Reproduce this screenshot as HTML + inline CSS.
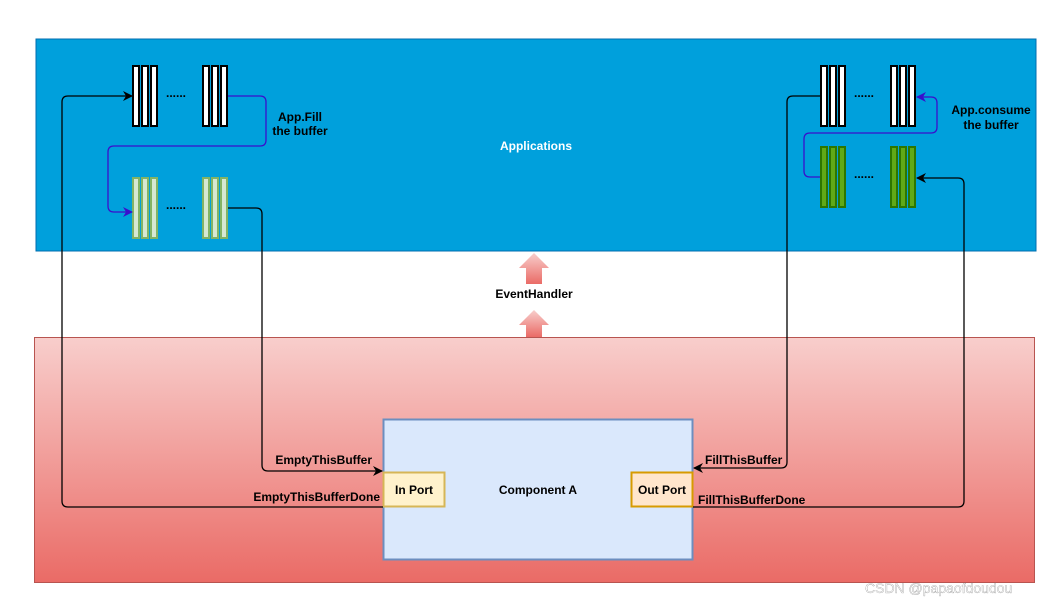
<!DOCTYPE html>
<html><head><style>body{margin:0;background:#fff}svg{display:block}text{font-family:"Liberation Sans",sans-serif;font-size:12px;font-weight:bold}</style></head><body>
<svg width="1059" height="605" viewBox="0 0 1059 605" xmlns="http://www.w3.org/2000/svg">
<defs>
<linearGradient id="rg" x1="0" y1="0" x2="0" y2="1"><stop offset="0" stop-color="#F8CECC"/><stop offset="1" stop-color="#EA6B66"/></linearGradient>
<linearGradient id="ag" x1="0" y1="0" x2="0" y2="1"><stop offset="0" stop-color="#F8CECC"/><stop offset="1" stop-color="#EA6B66"/></linearGradient>
<marker id="mb" markerWidth="10" markerHeight="10" refX="9" refY="5" orient="auto" markerUnits="userSpaceOnUse"><path d="M0,0 L10,5 L0,10 L3,5z" fill="#000"/></marker>
<marker id="mp" markerWidth="10" markerHeight="10" refX="9" refY="5" orient="auto" markerUnits="userSpaceOnUse"><path d="M0,0 L10,5 L0,10 L3,5z" fill="#3A0FCC"/></marker>
</defs>
<rect x="36" y="39" width="1000" height="212" fill="#00A0DC" stroke="#006EAF"/>
<rect x="34.5" y="337.5" width="1000" height="245" fill="url(#rg)" stroke="#B85450"/>
<text x="536" y="150" fill="#fff" text-anchor="middle">Applications</text>
<path d="M534,253 L549,268 L542,268 L542,284 L526,284 L526,268 L519,268z" fill="url(#ag)"/>
<path d="M534,310 L549,325 L542,325 L542,337 L526,337 L526,325 L519,325z" fill="url(#ag)"/>
<text x="534" y="298" text-anchor="middle" fill="#000">EventHandler</text>
<g stroke="#000" stroke-width="2" fill="#fff">
<rect x="133" y="66" width="6" height="60"/><rect x="142" y="66" width="6" height="60"/><rect x="151" y="66" width="6" height="60"/>
<rect x="203" y="66" width="6" height="60"/><rect x="212" y="66" width="6" height="60"/><rect x="221" y="66" width="6" height="60"/>
<rect x="821" y="66" width="6" height="60"/><rect x="830" y="66" width="6" height="60"/><rect x="839" y="66" width="6" height="60"/>
<rect x="891" y="66" width="6" height="60"/><rect x="900" y="66" width="6" height="60"/><rect x="909" y="66" width="6" height="60"/>
</g>
<g stroke="#82B366" stroke-width="2" fill="#D5E8D4">
<rect x="133" y="178" width="6" height="60"/><rect x="142" y="178" width="6" height="60"/><rect x="151" y="178" width="6" height="60"/>
<rect x="203" y="178" width="6" height="60"/><rect x="212" y="178" width="6" height="60"/><rect x="221" y="178" width="6" height="60"/>
</g>
<g stroke="#2D7600" stroke-width="2" fill="#60A917">
<rect x="821" y="147" width="6" height="60"/><rect x="830" y="147" width="6" height="60"/><rect x="839" y="147" width="6" height="60"/>
<rect x="891" y="147" width="6" height="60"/><rect x="900" y="147" width="6" height="60"/><rect x="909" y="147" width="6" height="60"/>
</g>
<g fill="#000"><text x="166" y="97">......</text><text x="166" y="209">......</text><text x="854" y="97">......</text><text x="854" y="178">......</text></g>
<text x="300" y="121" text-anchor="middle">App.Fill</text><text x="300" y="135" text-anchor="middle">the buffer</text>
<text x="991" y="114" text-anchor="middle">App.consume</text><text x="991" y="129" text-anchor="middle">the buffer</text>
<rect x="383.5" y="419.5" width="309" height="140" fill="#DAE8FC" stroke="#6C8EBF" stroke-width="2"/>
<text x="538" y="494" text-anchor="middle">Component A</text>
<rect x="383.5" y="472.5" width="61" height="34" fill="#FFF2CC" stroke="#D6B656" stroke-width="2"/>
<text x="414" y="494" text-anchor="middle">In Port</text>
<rect x="631.5" y="472.5" width="61" height="34" fill="#FFE6CC" stroke="#D79B00" stroke-width="2"/>
<text x="662" y="494" text-anchor="middle">Out Port</text>
<g fill="none" stroke-width="1.3">
<path d="M383,507 L68,507 Q62,507 62,501 L62,102 Q62,96 68,96 L132,96" stroke="#000" marker-end="url(#mb)"/>
<path d="M228,208 L256,208 Q262,208 262,214 L262,465 Q262,471 268,471 L382,471" stroke="#000" marker-end="url(#mb)"/>
<path d="M228,96 L260,96 Q266,96 266,102 L266,140 Q266,146 260,146 L114,146 Q108,146 108,152 L108,206 Q108,212 114,212 L132,212" stroke="#3A0FCC" marker-end="url(#mp)"/>
<path d="M820,96 L793,96 Q787,96 787,102 L787,462 Q787,468 781,468 L694,468" stroke="#000" marker-end="url(#mb)"/>
<path d="M693,507 L958,507 Q964,507 964,501 L964,184 Q964,178 958,178 L917,178" stroke="#000" marker-end="url(#mb)"/>
<path d="M820,177 L810,177 Q804,177 804,171 L804,139 Q804,133 810,133 L931,133 Q937,133 937,127 L937,103 Q937,97 931,97 L917,97" stroke="#3A0FCC" marker-end="url(#mp)"/>
</g>
<text x="372" y="464" text-anchor="end">EmptyThisBuffer</text>
<text x="380" y="501" text-anchor="end">EmptyThisBufferDone</text>
<text x="705" y="464">FillThisBuffer</text>
<text x="698" y="504">FillThisBufferDone</text>
<text x="865" y="593" fill="#fff" style="font-weight:normal;font-size:14px" stroke="#888" stroke-width="0.3">CSDN @papaofdoudou</text>
</svg>
</body></html>
